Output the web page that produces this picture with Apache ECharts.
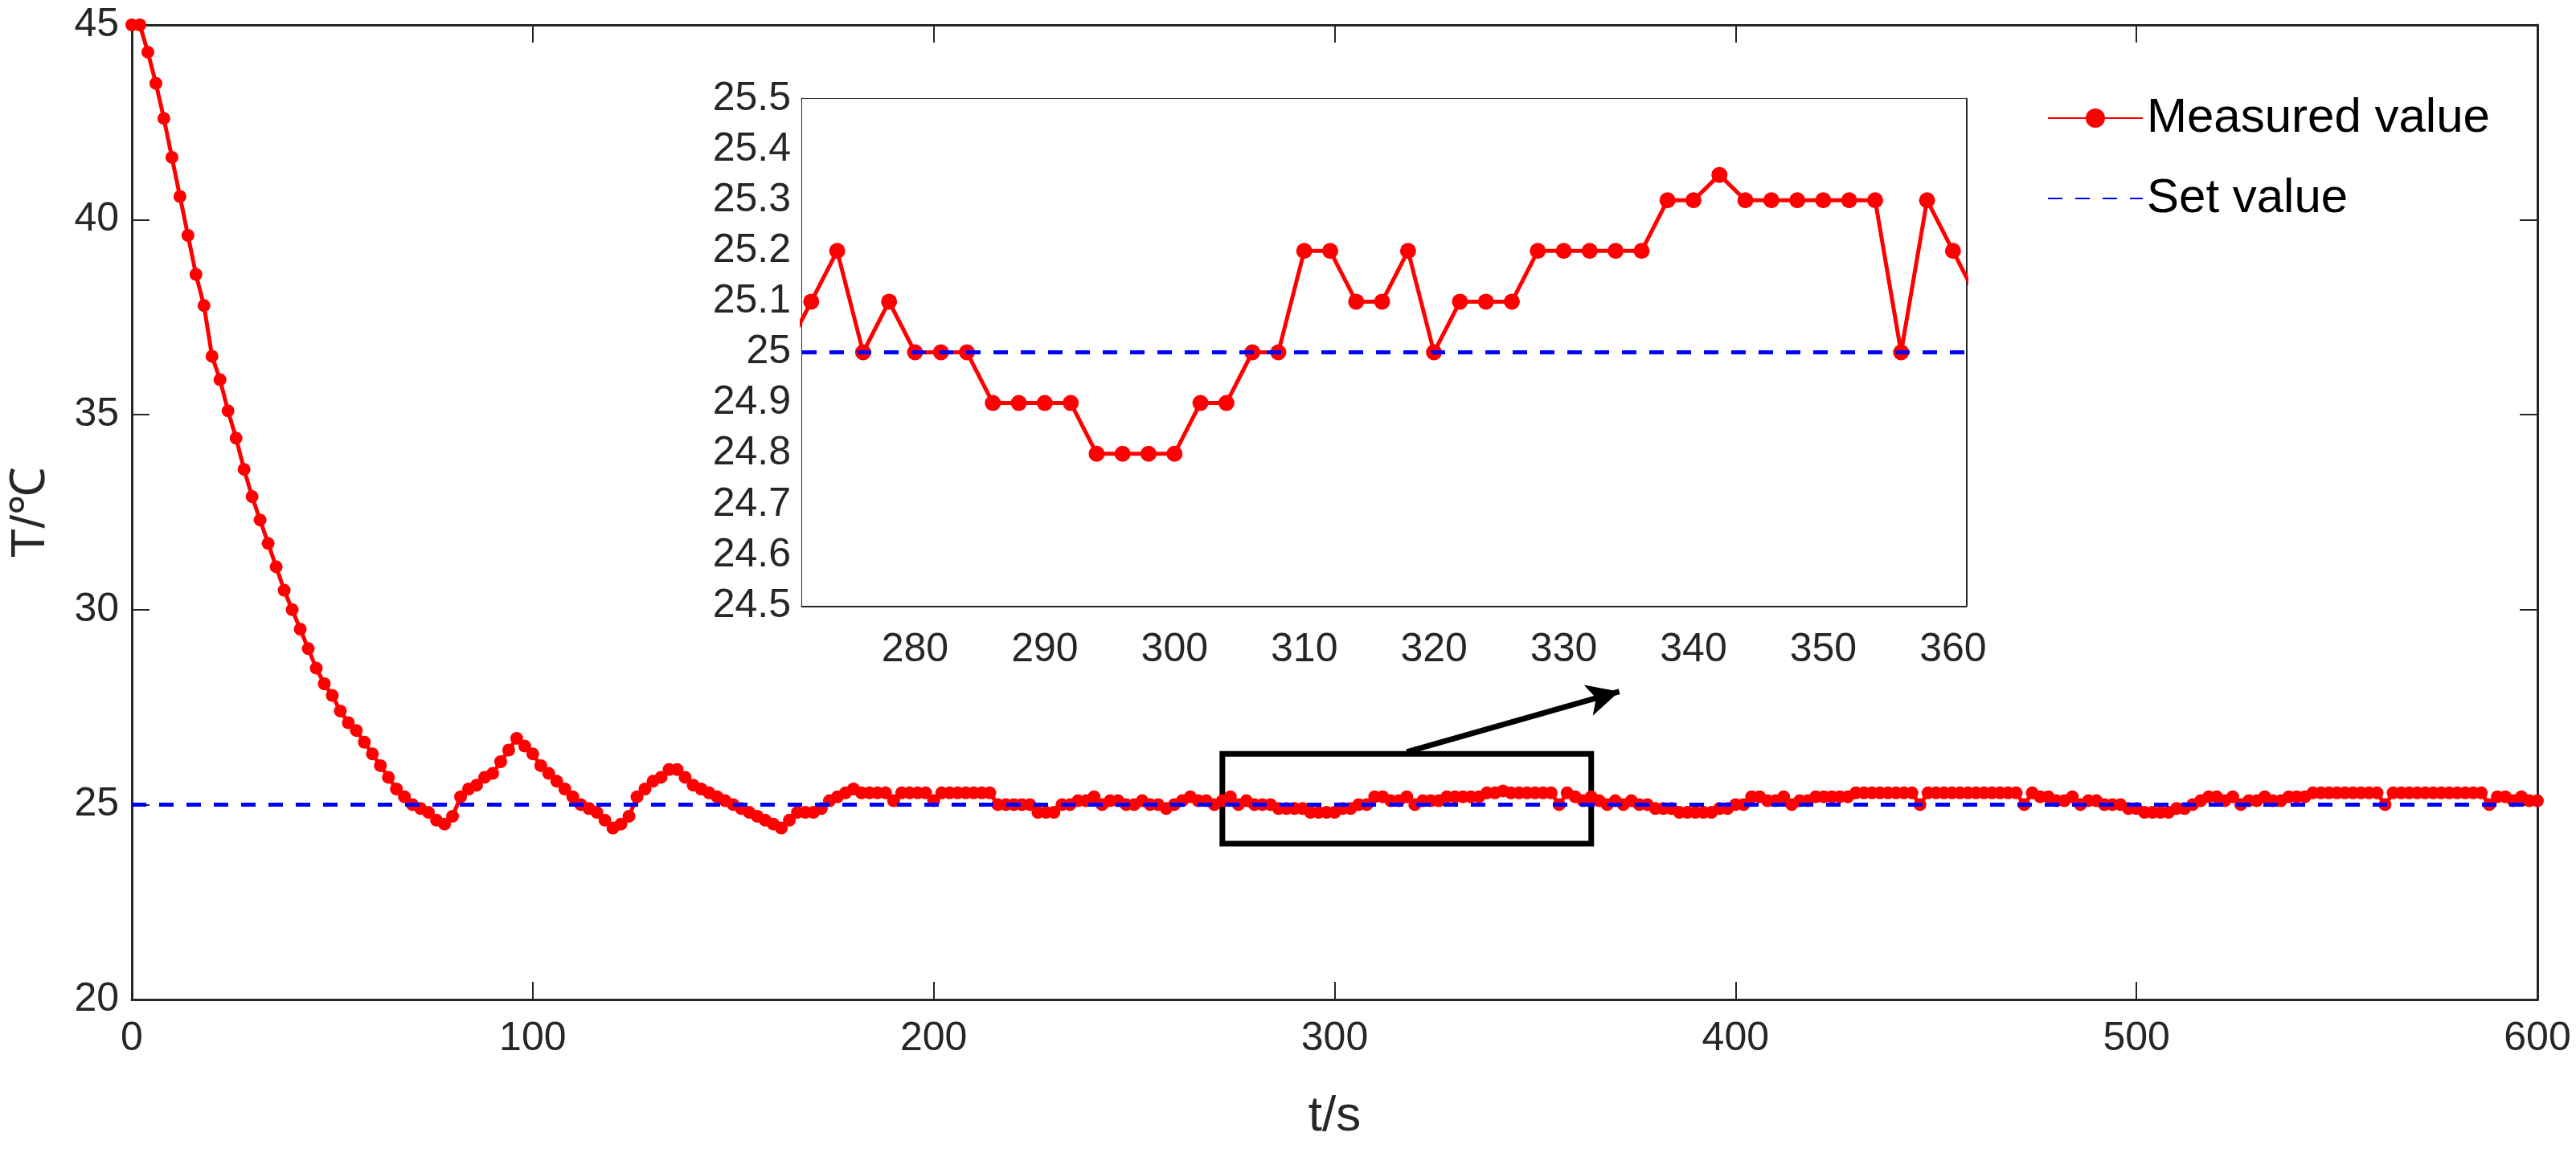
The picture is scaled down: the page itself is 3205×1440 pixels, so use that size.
<!DOCTYPE html>
<html>
<head>
<meta charset="utf-8">
<script src="https://cdn.jsdelivr.net/npm/echarts@6/dist/echarts.min.js"></script>
<style>
  html, body { margin: 0; padding: 0; background: #fff; }
  #chart { width: 3205px; height: 1440px; }
</style>
</head>
<body>
<div id="chart"></div>
<script>
// sampling step of the measurement, seconds
var timeStep = 2;

// measured temperature, one value every 2 s from 0 to 600 s
var measured = [
    45, 45, 44.3, 43.5, 42.6, 41.6, 40.6, 39.6, 38.6, 37.8,
    36.5, 35.9, 35.1, 34.4, 33.6, 32.9, 32.3, 31.7, 31.1, 30.5,
    30.0, 29.5, 29.0, 28.5, 28.1, 27.8, 27.4, 27.1, 26.9, 26.6,
    26.3, 26.0, 25.7, 25.4, 25.2, 25.0, 24.9, 24.8, 24.6, 24.5,
    24.7, 25.2, 25.4, 25.5, 25.7, 25.8, 26.1, 26.4, 26.7, 26.5,
    26.3, 26.0, 25.8, 25.6, 25.4, 25.2, 25.0, 24.9, 24.8, 24.6,
    24.4, 24.5, 24.7, 25.2, 25.4, 25.6, 25.7, 25.9, 25.9, 25.7,
    25.5, 25.4, 25.3, 25.2, 25.1, 25.0, 24.9, 24.8, 24.7, 24.6,
    24.5, 24.4, 24.6, 24.8, 24.8, 24.8, 24.9, 25.1, 25.2, 25.3,
    25.4, 25.3, 25.3, 25.3, 25.3, 25.1, 25.3, 25.3, 25.3, 25.3,
    25.1, 25.3, 25.3, 25.3, 25.3, 25.3, 25.3, 25.3, 25.0, 25.0,
    25.0, 25.0, 25.0, 24.8, 24.8, 24.8, 25.0, 25.0, 25.1, 25.1,
    25.2, 25.0, 25.1, 25.1, 25.0, 25.0, 25.1, 25.0, 25.0, 24.9,
    25.0, 25.1, 25.2, 25.1, 25.1, 25.0, 25.1, 25.2, 25.0, 25.1,
    25.0, 25.0, 25.0, 24.9, 24.9, 24.9, 24.9, 24.8, 24.8, 24.8,
    24.8, 24.9, 24.9, 25.0, 25.0, 25.2, 25.2, 25.1, 25.1, 25.2,
    25.0, 25.1, 25.1, 25.1, 25.2, 25.2, 25.2, 25.2, 25.2, 25.3,
    25.3, 25.35, 25.3, 25.3, 25.3, 25.3, 25.3, 25.3, 25.0, 25.3,
    25.2, 25.1, 25.2, 25.1, 25.0, 25.1, 25.0, 25.1, 25.0, 25.0,
    24.9, 24.9, 24.9, 24.8, 24.8, 24.8, 24.8, 24.8, 24.9, 24.9,
    25.0, 25.0, 25.2, 25.2, 25.1, 25.1, 25.2, 25.0, 25.1, 25.1,
    25.2, 25.2, 25.2, 25.2, 25.2, 25.3, 25.3, 25.3, 25.3, 25.3,
    25.3, 25.3, 25.3, 25.0, 25.3, 25.3, 25.3, 25.3, 25.3, 25.3,
    25.3, 25.3, 25.3, 25.3, 25.3, 25.3, 25.0, 25.3, 25.2, 25.2,
    25.1, 25.1, 25.2, 25.0, 25.1, 25.1, 25.0, 25.0, 25.0, 24.9,
    24.9, 24.8, 24.8, 24.8, 24.8, 24.9, 24.9, 25.0, 25.1, 25.2,
    25.2, 25.1, 25.2, 25.0, 25.1, 25.1, 25.2, 25.1, 25.1, 25.2,
    25.2, 25.2, 25.3, 25.3, 25.3, 25.3, 25.3, 25.3, 25.3, 25.3,
    25.3, 25.0, 25.3, 25.3, 25.3, 25.3, 25.3, 25.3, 25.3, 25.3,
    25.3, 25.3, 25.3, 25.3, 25.0, 25.2, 25.2, 25.1, 25.2, 25.1,
    25.1
];

var setValue = 25;

// axes
var mainXRange = [0, 600];
var mainYRange = [20, 45];
var insetXRange = [271.3, 361];
var insetYRange = [24.5, 25.5];
var insetXLabels = [280, 290, 300, 310, 320, 330, 340, 350, 360];
var insetXTicks = [];
for (var t = 272; t <= 360; t += 2) insetXTicks.push(t);

// zoom box and arrow (data coordinates)
var zoomBox = [[272, 26.3], [364, 24.0]];
var arrowLine = [[318, 26.35], [371, 27.9]];

var mainData = measured.map(function (v, i) { return [i * timeStep, v]; });
var insetData = mainData.filter(function (p) { return p[0] >= 270 && p[0] <= 362; });

var font = "'Liberation Sans Narrow', 'Arial Narrow', 'Liberation Sans', sans-serif";
var axisColor = '#262626';

function boxAxis(extra) {
    var base = {
        axisLine: { show: true, onZero: false, lineStyle: { color: axisColor, width: 3 } },
        axisTick: { show: true, inside: true, length: 22, lineStyle: { color: axisColor, width: 2 } },
        axisLabel: { show: false },
        splitLine: { show: false }
    };
    return Object.assign(base, extra);
}

var myChart = echarts.init(document.getElementById('chart'));

var option = {
    backgroundColor: '#fff',
    animation: false,
    textStyle: { fontFamily: font },
    grid: [
        { left: 160, top: 31, right: 48, bottom: 196 },
        { left: 998, top: 123, width: 1448, height: 631, show: true, backgroundColor: '#fff', borderWidth: 0, z: 5 }
    ],
    legend: {
        orient: 'vertical',
        left: 2542,
        top: 112,
        itemWidth: 118,
        itemHeight: 30,
        itemGap: 40,
        textStyle: { fontSize: 60, color: '#000', fontFamily: font },
        data: [
            { name: 'Measured value' },
            { name: 'Set value', itemStyle: { opacity: 0 } }
        ]
    },
    xAxis: [
        boxAxis({
            type: 'value', gridIndex: 0, min: mainXRange[0], max: mainXRange[1], interval: 100,
            position: 'bottom',
            axisLabel: { show: true, fontSize: 50, color: axisColor, margin: 24 },
            name: 't/s', nameLocation: 'middle', nameGap: 115,
            nameTextStyle: { fontSize: 62, color: axisColor }
        }),
        boxAxis({ type: 'value', gridIndex: 0, min: mainXRange[0], max: mainXRange[1], interval: 100, position: 'top' }),
        boxAxis({
            type: 'value', gridIndex: 1, min: insetXRange[0], max: insetXRange[1], position: 'bottom',
            axisTick: { show: true, inside: true, length: 14, customValues: insetXTicks, lineStyle: { color: axisColor, width: 2 } },
            axisLabel: { show: true, fontSize: 50, color: axisColor, margin: 30, customValues: insetXLabels }
        }),
        boxAxis({
            type: 'value', gridIndex: 1, min: insetXRange[0], max: insetXRange[1], position: 'top',
            axisTick: { show: true, inside: true, length: 14, customValues: insetXTicks, lineStyle: { color: axisColor, width: 2 } }
        })
    ],
    yAxis: [
        boxAxis({
            type: 'value', gridIndex: 0, min: mainYRange[0], max: mainYRange[1], interval: 5,
            position: 'left',
            axisLabel: { show: true, fontSize: 50, color: axisColor, margin: 16 },
            name: 'T/℃', nameLocation: 'middle', nameGap: 96, nameRotate: 90,
            nameTextStyle: { fontSize: 60, color: axisColor }
        }),
        boxAxis({ type: 'value', gridIndex: 0, min: mainYRange[0], max: mainYRange[1], interval: 5, position: 'right' }),
        boxAxis({
            type: 'value', gridIndex: 1, min: insetYRange[0], max: insetYRange[1], interval: 0.1,
            position: 'left',
            axisTick: { show: true, inside: true, length: 14, lineStyle: { color: axisColor, width: 2 } },
            axisLabel: {
                show: true, fontSize: 50, color: axisColor, margin: 14,
                formatter: function (v) { return String(parseFloat(v.toFixed(2))); }
            }
        }),
        boxAxis({
            type: 'value', gridIndex: 1, min: insetYRange[0], max: insetYRange[1], interval: 0.1,
            position: 'right',
            axisTick: { show: true, inside: true, length: 14, lineStyle: { color: axisColor, width: 2 } }
        })
    ],
    series: [
        {
            name: 'Measured value', type: 'line', xAxisIndex: 0, yAxisIndex: 0,
            data: mainData, symbol: 'circle', symbolSize: 16,
            itemStyle: { color: '#ff0000' }, lineStyle: { color: '#ff0000', width: 5 },
            z: 3,
            markArea: {
                silent: true,
                itemStyle: { color: 'rgba(0,0,0,0)', borderColor: '#000', borderWidth: 7 },
                data: [[{ coord: zoomBox[0] }, { coord: zoomBox[1] }]]
            },
            markLine: {
                silent: true, symbol: ['none', 'arrow'], symbolSize: [30, 40],
                label: { show: false },
                lineStyle: { color: '#000', width: 7, type: 'solid' },
                data: [[{ coord: arrowLine[0] }, { coord: arrowLine[1] }]]
            }
        },
        {
            name: 'Set value', type: 'line', xAxisIndex: 0, yAxisIndex: 0,
            data: [[mainXRange[0], setValue], [mainXRange[1], setValue]],
            symbol: 'none', itemStyle: { color: '#0000ff' },
            lineStyle: { color: '#0000ff', width: 5, type: [18, 16] }, z: 4
        },
        {
            name: 'Measured value', type: 'line', xAxisIndex: 2, yAxisIndex: 2,
            data: insetData, symbol: 'circle', symbolSize: 20, clip: true,
            itemStyle: { color: '#ff0000' }, lineStyle: { color: '#ff0000', width: 5 }, z: 6
        },
        {
            name: 'Set value', type: 'line', xAxisIndex: 2, yAxisIndex: 2,
            data: [[insetXRange[0], setValue], [insetXRange[1], setValue]],
            symbol: 'none', lineStyle: { color: '#0000ff', width: 5, type: [18, 16] }, z: 7
        }
    ]
};

option && myChart.setOption(option);
</script>
</body>
</html>
